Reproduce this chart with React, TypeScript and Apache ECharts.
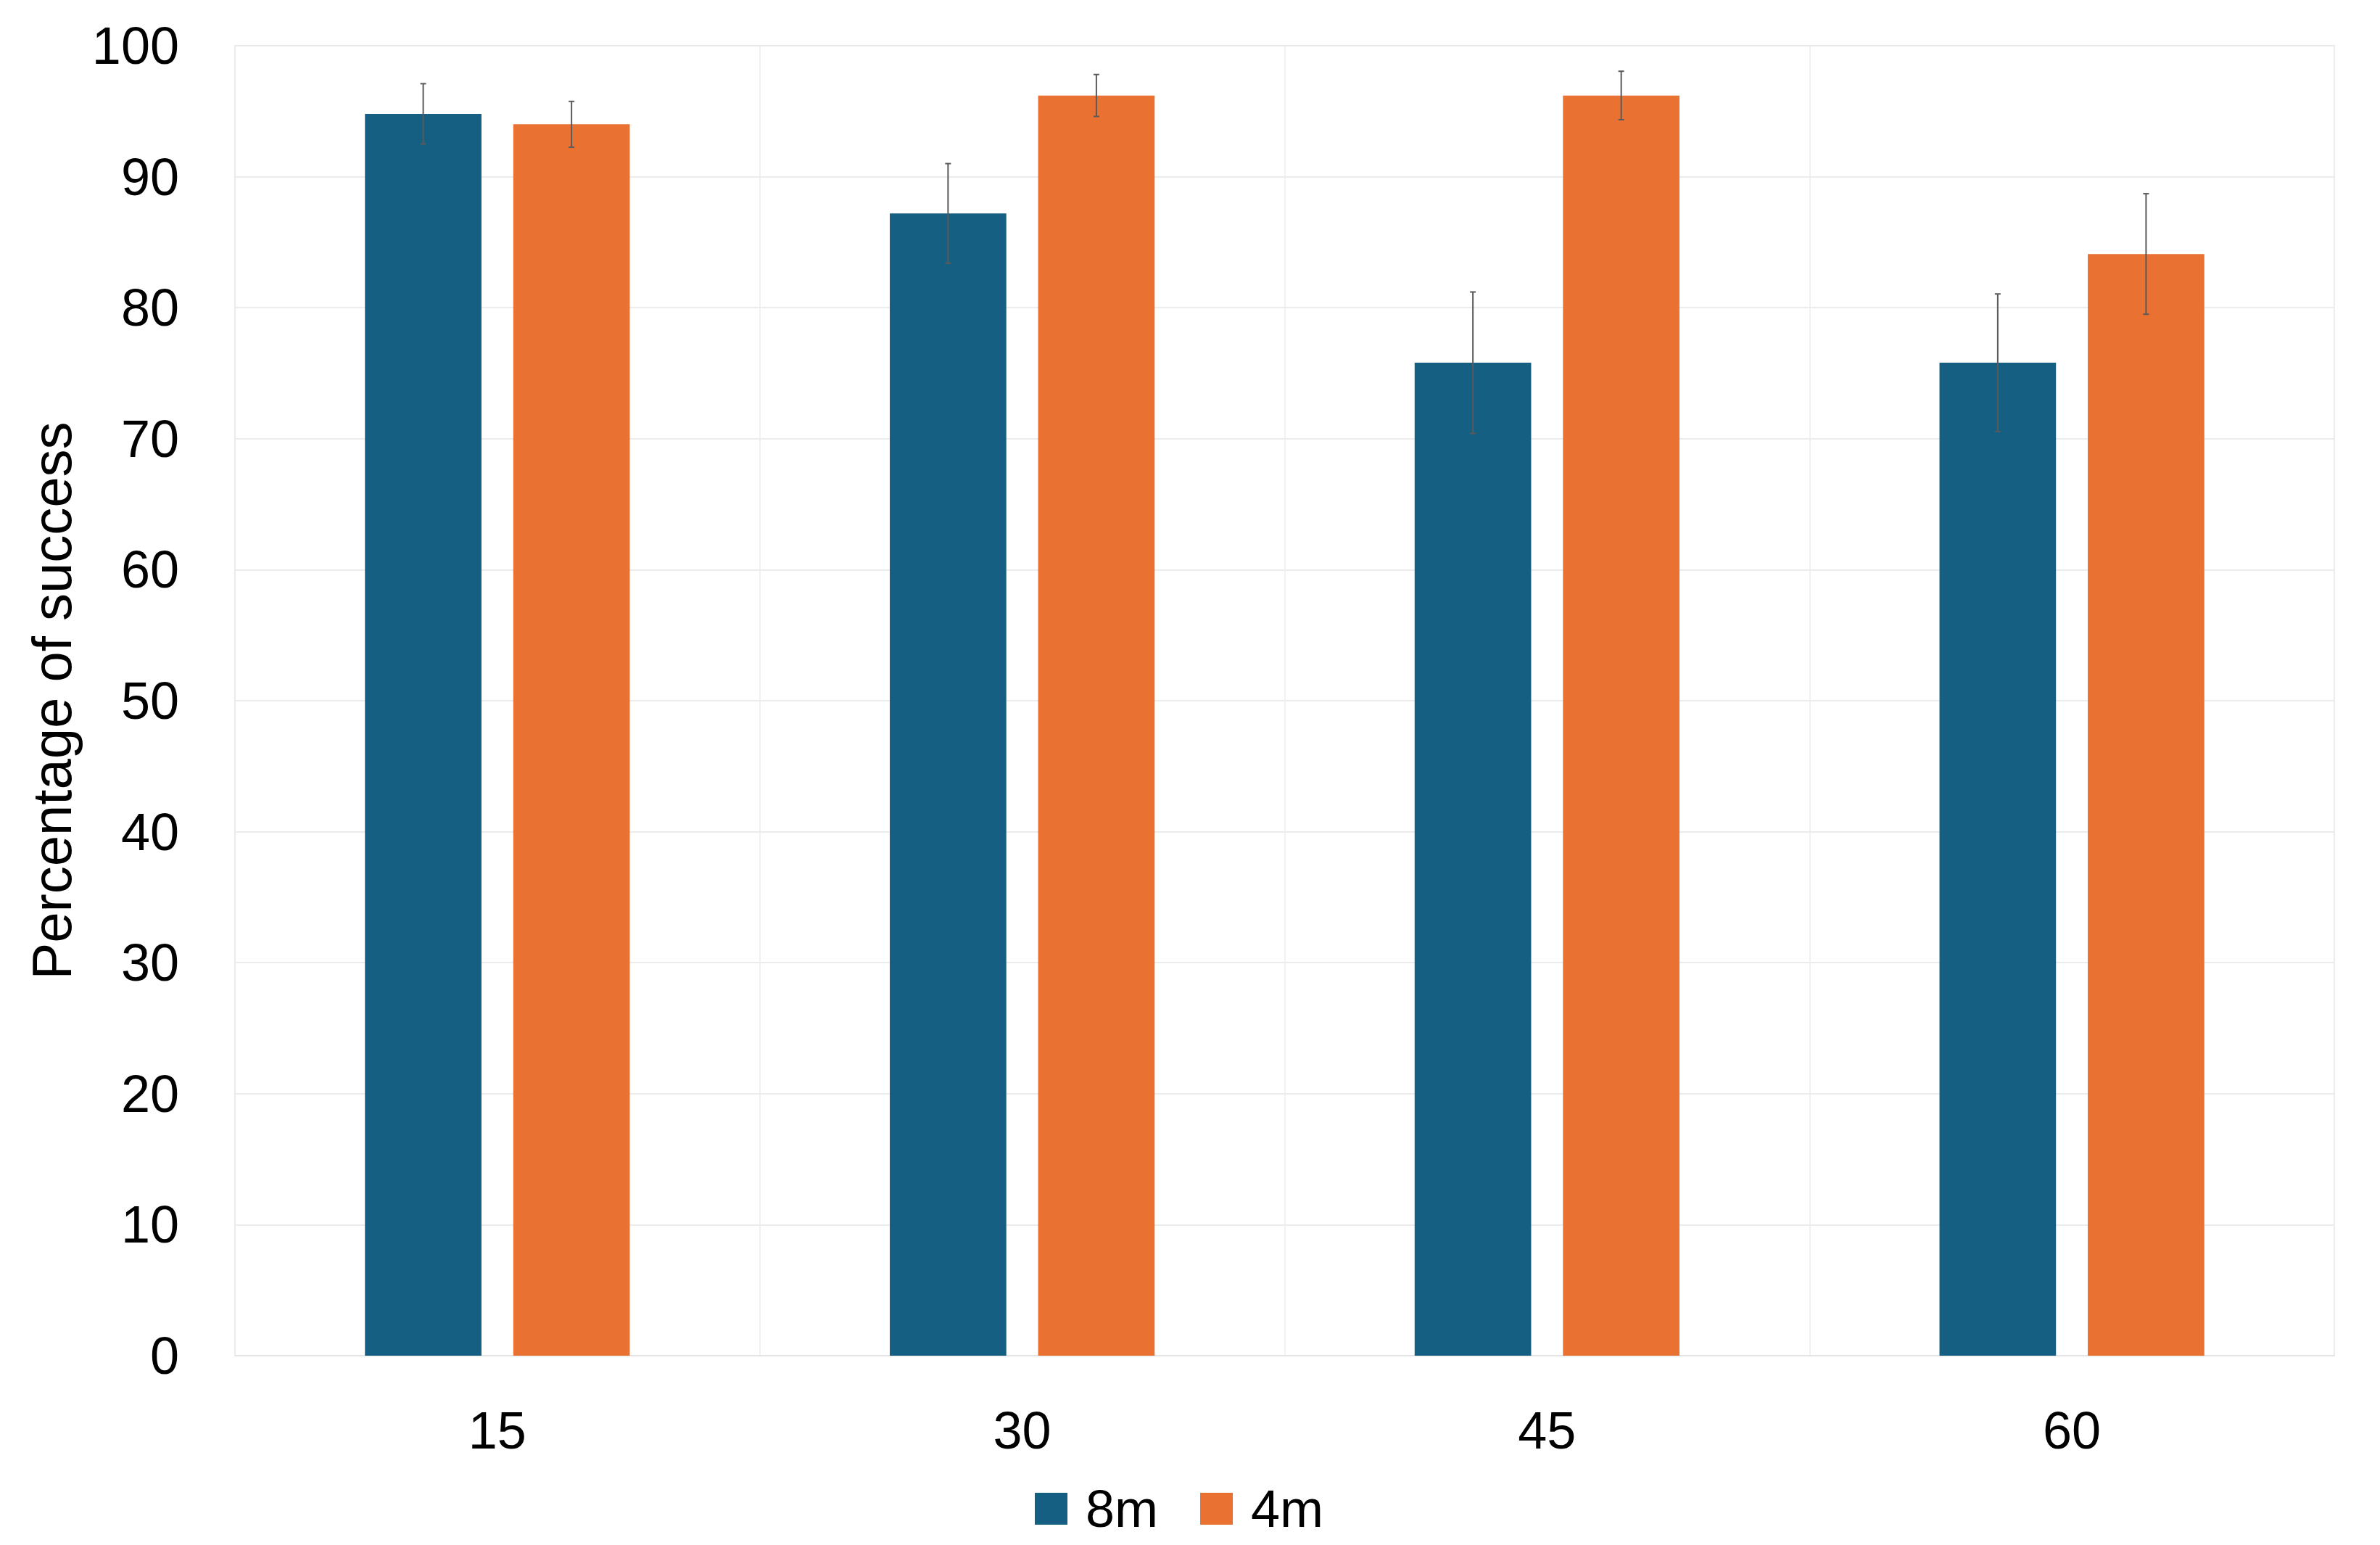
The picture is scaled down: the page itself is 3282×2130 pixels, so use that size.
import React, { useEffect, useRef } from "react";
import * as echarts from "echarts";

const categories = ["15", "30", "45", "60"];
const seriesNames = ["8m", "4m"];
const values8m = [94.8, 87.2, 75.8, 75.8];
const errors8m = [2.3, 3.8, 5.4, 5.25];
const values4m = [94.0, 96.2, 96.2, 84.1];
const errors4m = [1.75, 1.6, 1.85, 4.6];
const yTicks = [0, 10, 20, 30, 40, 50, 60, 70, 80, 90, 100];

const COLORS = ["#156082", "#E97132"];
const FONT = "'Liberation Sans', Arial, sans-serif";
const BAR_W = 0.222; // fraction of band
const GAP = 0.273; // fraction of bar width

function errorSeries(values: number[], errors: number[], idx: number) {
  return {
    type: "custom",
    name: seriesNames[idx] + " error",
    silent: true,
    z: 10,
    data: values.map((v, i) => [i, v, errors[i]]),
    renderItem: (params: any, api: any) => {
      const ci = api.value(0);
      const v = api.value(1);
      const e = api.value(2);
      const band = api.size([1, 0])[0];
      const bw = band * BAR_W;
      const gap = bw * GAP;
      const off = ((bw + gap) / 2) * (idx === 0 ? -1 : 1);
      const top = api.coord([ci, v + e]);
      const bot = api.coord([ci, v - e]);
      const x = top[0] + off;
      const cap = 4;
      const style = { stroke: "#5a5a5a", lineWidth: 2 };
      return {
        type: "group",
        children: [
          { type: "line", shape: { x1: x, y1: top[1], x2: x, y2: bot[1] }, style },
          { type: "line", shape: { x1: x - cap, y1: top[1], x2: x + cap, y2: top[1] }, style },
          { type: "line", shape: { x1: x - cap, y1: bot[1], x2: x + cap, y2: bot[1] }, style },
        ],
      };
    },
  };
}

export default function App() {
  const ref = useRef<HTMLDivElement>(null);
  useEffect(() => {
    if (!ref.current) return;
    const chart = echarts.init(ref.current, null, { renderer: "svg" });
    chart.setOption({
      animation: false,
      backgroundColor: "#ffffff",
      textStyle: { fontFamily: FONT, color: "#000" },
      grid: {
        left: 324,
        right: 63,
        top: 63,
        bottom: 261,
        show: true,
        borderColor: "#e3e3e3",
        borderWidth: 1.5,
      },
      legend: {
        data: seriesNames,
        left: 1427,
        top: 2044,
        itemWidth: 45,
        itemHeight: 44,
        itemGap: 58,
        padding: 0,
        icon: "rect",
        textStyle: { fontSize: 72, color: "#000", fontFamily: FONT, padding: [0, 0, 0, 20] },
      },
      xAxis: {
        type: "category",
        data: categories,
        axisLine: { show: true, lineStyle: { color: "#e3e3e3", width: 1.5 } },
        axisTick: { show: false },
        axisLabel: { fontSize: 72, color: "#000", margin: 67, fontFamily: FONT },
        splitLine: { show: true, interval: 0, lineStyle: { color: "#ececec", width: 1.5 } },
      },
      yAxis: {
        type: "value",
        min: 0,
        max: 100,
        interval: 10,
        name: "Percentage of success",
        nameLocation: "middle",
        nameGap: 215,
        nameTextStyle: { fontSize: 76, color: "#000", fontFamily: FONT },
        axisLine: { show: false },
        axisTick: { show: false },
        axisLabel: {
          fontSize: 72,
          color: "#000",
          margin: 77,
          fontFamily: FONT,
          formatter: (v: number) => (yTicks.includes(v) ? String(v) : ""),
        },
        splitLine: { show: true, lineStyle: { color: "#e6e6e6", width: 1.5 } },
      },
      series: [
        {
          type: "bar",
          name: seriesNames[0],
          data: values8m,
          barWidth: (BAR_W * 100).toFixed(1) + "%",
          barGap: (GAP * 100).toFixed(1) + "%",
          itemStyle: { color: COLORS[0] },
        },
        {
          type: "bar",
          name: seriesNames[1],
          data: values4m,
          barWidth: (BAR_W * 100).toFixed(1) + "%",
          barGap: (GAP * 100).toFixed(1) + "%",
          itemStyle: { color: COLORS[1] },
        },
        errorSeries(values8m, errors8m, 0),
        errorSeries(values4m, errors4m, 1),
      ],
    });
    return () => chart.dispose();
  }, []);
  return (
    <div
      ref={ref}
      style={{ position: "absolute", left: 0, top: 0, width: 3282, height: 2130 }}
    />
  );
}
